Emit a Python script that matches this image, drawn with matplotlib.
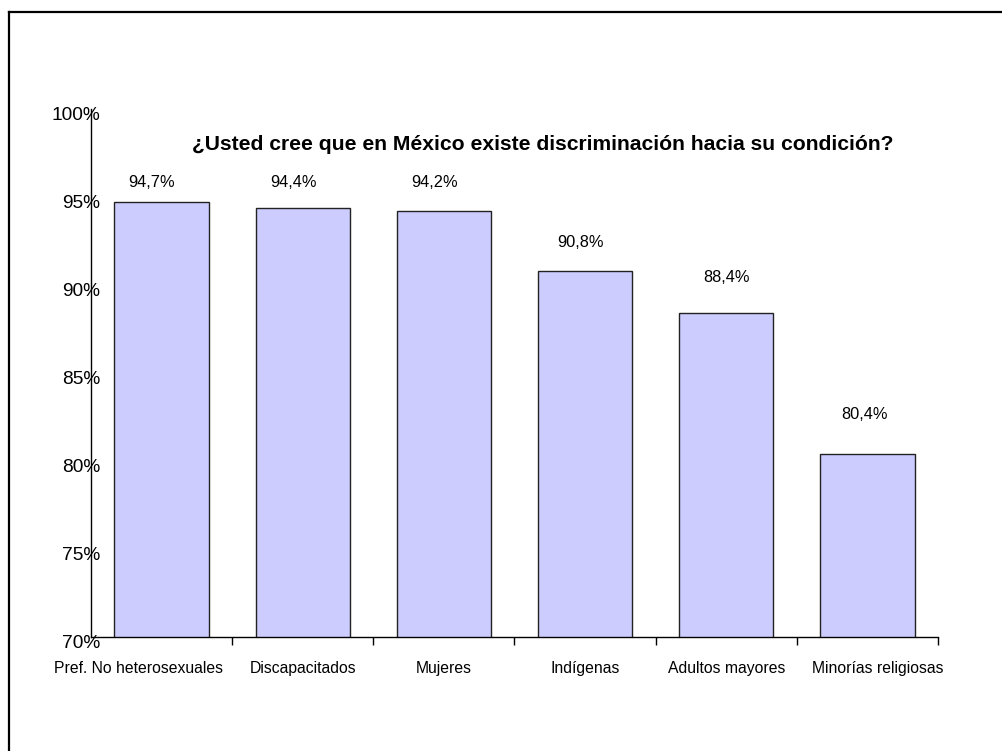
import matplotlib
matplotlib.use("Agg")
import matplotlib.pyplot as plt
from matplotlib.lines import Line2D
from matplotlib.transforms import ScaledTranslation

# Survey answers: share who think discrimination exists toward their group
categories = ['Pref. No heterosexuales', 'Discapacitados', 'Mujeres',
              'Indígenas', 'Adultos mayores', 'Minorías religiosas']
values = [94.7, 94.4, 94.2, 90.8, 88.4, 80.4]
value_labels = ['94,7%', '94,4%', '94,2%', '90,8%', '88,4%', '80,4%']
y_ticks = [70, 75, 80, 85, 90, 95, 100]
y_tick_labels = ['70%', '75%', '80%', '85%', '90%', '95%', '100%']
title = '¿Usted cree que en México existe discriminación hacia su condición?'

# label placement tweaks (pixels): horizontal shift, baseline height above bar
label_dx = [-10, -9, -9, -5, 0, -3]
label_dy = [15, 21, 24, 24, 31, 35]

plt.rcParams['font.family'] = ['Liberation Sans', 'DejaVu Sans']

fig = plt.figure(figsize=(10.03, 7.51), dpi=100)
ax = fig.add_axes([0.0907, 0.1518, 0.8445, 0.7031])

x = list(range(len(categories)))
ax.bar(x, values, width=0.667, color='#CCCCFF',
       edgecolor='#222222', linewidth=1.0, zorder=2)

ax.set_xlim(-0.5, len(categories) - 0.5)
ax.set_ylim(70, 100)

# value labels over each bar
for i, (v, txt) in enumerate(zip(values, value_labels)):
    ax.annotate(txt, (i, v), xytext=(label_dx[i], label_dy[i]),
                textcoords='offset pixels', ha='center', va='baseline',
                fontsize=11.8, color='black')

# y axis
ax.set_yticks(y_ticks)
ax.set_yticklabels(y_tick_labels, fontsize=13.8)
ax.tick_params(axis='y', length=0, pad=-6.5)
for lbl in ax.get_yticklabels():
    lbl.set_transform(lbl.get_transform() +
                      ScaledTranslation(0, -0.05, fig.dpi_scale_trans))

# x axis: names centred under bars, tick marks between bars
ax.set_xticks(x)
ax.set_xticklabels(categories, fontsize=11.3)
ax.set_xticks([i + 0.5 for i in x], minor=True)
ax.tick_params(axis='x', which='major', length=0, pad=17)
ax.tick_params(axis='x', which='minor', length=6, width=1, direction='out')
xl = ax.get_xticklabels()
xl[0].set_transform(xl[0].get_transform() +
                    ScaledTranslation(-0.23, 0, fig.dpi_scale_trans))
xl[-1].set_transform(xl[-1].get_transform() +
                     ScaledTranslation(0.10, 0, fig.dpi_scale_trans))

for side in ['top', 'right']:
    ax.spines[side].set_visible(False)
ax.spines['left'].set_linewidth(1.0)
ax.spines['bottom'].set_linewidth(1.0)

fig.text(542.5 / 1003, 1 - 145 / 751, title, ha='center', va='center',
         fontsize=15.2, fontweight='bold')

# outer frame (only top and left edges fall inside the image)
fig.add_artist(Line2D([9.5 / 1003, 1.0], [1 - 12 / 751, 1 - 12 / 751],
                      transform=fig.transFigure, color='black', linewidth=1.6))
fig.add_artist(Line2D([9.5 / 1003, 9.5 / 1003], [0.0, 1 - 12 / 751],
                      transform=fig.transFigure, color='black', linewidth=1.6))

fig.savefig('out.png', dpi=100, facecolor='white')
